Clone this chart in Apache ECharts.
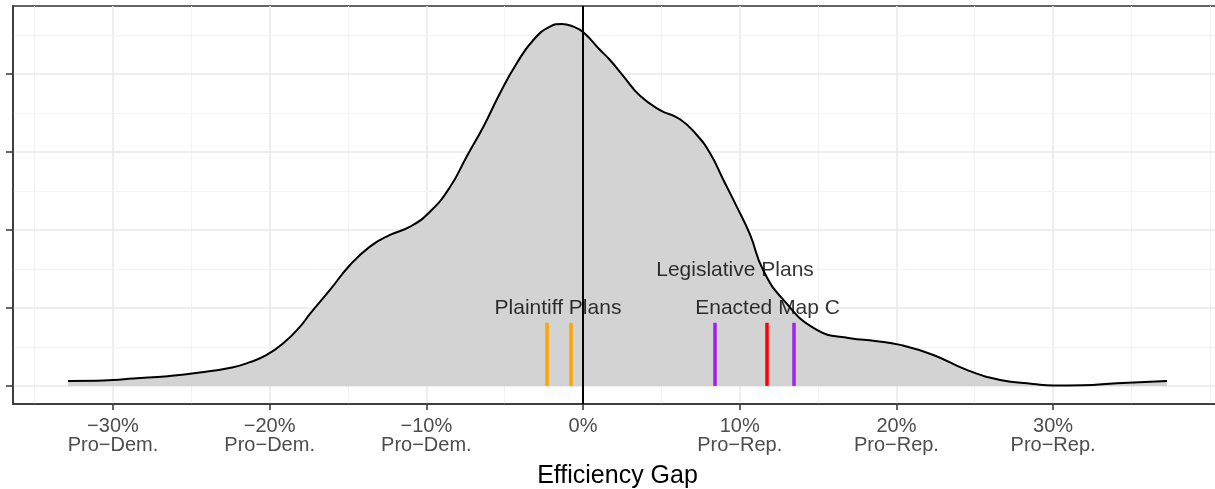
<!DOCTYPE html>
<html>
<head>
<meta charset="utf-8">
<script src="https://cdn.jsdelivr.net/npm/echarts@6/dist/echarts.min.js"></script>
<style>
  html, body { margin: 0; padding: 0; background: #ffffff; }
  #chart { width: 1215px; height: 489px; }
</style>
</head>
<body>
<div id="chart"></div>
<script>
// Density of simulated efficiency gaps: x in percent, y = density
const gapPct = [
  -32.87, -31.0, -30.0, -28.7, -26.5, -24.46, -22.32, -21.25, -20.19, -19.13,
  -18.06, -17.43, -16.15, -14.87, -13.6, -12.32, -11.04, -9.77, -8.49, -7.43,
  -6.36, -5.3, -4.23, -3.17, -2.11, -1.36, -0.62, 0.02, 1.09, 1.72,
  2.57, 3.64, 4.91, 6.19, 7.26, 8.11, 8.96, 9.81, 10.66, 11.49,
  12.79, 14.92, 17.04, 18.64, 20.24, 22.36, 24.49, 26.62, 28.72, 30.0,
  31.91, 34.07, 37.27
];
const density = [
  0.064, 0.066, 0.075, 0.095, 0.125, 0.171, 0.24, 0.305, 0.397, 0.547,
  0.76, 0.923, 1.231, 1.551, 1.786, 1.936, 2.042, 2.234, 2.55, 2.94,
  3.324, 3.753, 4.137, 4.436, 4.607, 4.641, 4.607, 4.535, 4.308, 4.179,
  3.974, 3.72, 3.538, 3.42, 3.218, 2.983, 2.641, 2.299, 1.94, 1.487,
  1.103, 0.718, 0.612, 0.577, 0.526, 0.397, 0.205, 0.077, 0.026, 0.005,
  0.009, 0.035, 0.064
];

// Individual plans (efficiency gap in percent) and the group each belongs to
const planGap   = [-2.32, -0.79, 8.38, 11.74, 13.42];
const planGroup = ['plaintiff', 'plaintiff', 'legislative', 'enacted', 'legislative'];
const planMarkTop = 0.81;

// Text annotations: label, x (percent), y (density units)
const noteText = ['Plaintiff Plans', 'Legislative Plans', 'Enacted Map C'];
const noteX    = [-1.6, 9.7, 11.78];
const noteY    = [1.0, 1.49, 1.0];

// Axis ticks and gridlines
const xTickValues = [-30, -20, -10, 0, 10, 20, 30];
const xTickLabels = ['−30%\nPro−Dem.', '−20%\nPro−Dem.', '−10%\nPro−Dem.', '0%',
                     '10%\nPro−Rep.', '20%\nPro−Rep.', '30%\nPro−Rep.'];
const xMinorGrid  = [-35, -25, -15, -5, 5, 15, 25, 35, 40];
const yTickValues = [0, 1, 2, 3, 4];
const yMinorGrid  = [0.5, 1.5, 2.5, 3.5, 4.5];

const X_MIN = -36.38, X_MAX = 40.78;
const Y_MIN = -0.232, Y_MAX = 4.872;

const groupColor = { plaintiff: '#FFA500', legislative: '#A020F0', enacted: '#FF0000' };
const FONT = '"Liberation Sans", Arial, Helvetica, sans-serif';

const curve = gapPct.map((x, i) => [x, density[i]]);

const major = { color: '#e8e8e8', width: 1.5, type: 'solid' };
const minor = { color: '#f2f2f2', width: 1, type: 'solid' };
const gridLines = []
  .concat(xTickValues.map(v => ({ xAxis: v, lineStyle: major })))
  .concat(xMinorGrid.map(v => ({ xAxis: v, lineStyle: minor })))
  .concat(yTickValues.map(v => ({ yAxis: v, lineStyle: major })))
  .concat(yMinorGrid.map(v => ({ yAxis: v, lineStyle: minor })));

const planMarks = planGap.map((g, i) => [
  { coord: [g, 0], lineStyle: { color: groupColor[planGroup[i]], width: 3.5, type: 'solid' } },
  { coord: [g, planMarkTop] }
]);

const chart = echarts.init(document.getElementById('chart'), null, { renderer: 'canvas' });

chart.setOption({
  animation: false,
  backgroundColor: '#ffffff',
  grid: {
    left: 13, right: -7, top: 6, bottom: 85,
    containLabel: false, outerBoundsMode: 'none',
    show: true, backgroundColor: '#ffffff',
    borderColor: '#333333', borderWidth: 1.5
  },
  xAxis: {
    type: 'value', min: X_MIN, max: X_MAX,
    name: 'Efficiency Gap', nameLocation: 'middle', nameGap: 60,
    nameTextStyle: { fontFamily: FONT, fontSize: 25, color: '#000000' },
    axisLine: { show: true, onZero: false, lineStyle: { color: '#333333', width: 1.5 } },
    axisTick: { show: true, customValues: xTickValues, length: 6, lineStyle: { color: '#333333', width: 1.5 } },
    axisLabel: {
      show: true, customValues: xTickValues, margin: 13,
      fontFamily: FONT, fontSize: 20, lineHeight: 19, color: '#4d4d4d',
      formatter: v => {
        const i = xTickValues.indexOf(Math.round(v));
        return i >= 0 ? xTickLabels[i] : '';
      }
    },
    splitLine: { show: false }
  },
  yAxis: {
    type: 'value', min: Y_MIN, max: Y_MAX,
    axisLine: { show: true, onZero: false, lineStyle: { color: '#333333', width: 1.5 } },
    axisTick: { show: true, customValues: yTickValues, length: 7, lineStyle: { color: '#333333', width: 1.5 } },
    axisLabel: { show: false },
    splitLine: { show: false }
  },
  series: [
    {
      // panel gridlines
      type: 'line', z: 0, silent: true,
      data: [[X_MIN, Y_MIN]], showSymbol: false,
      lineStyle: { opacity: 0 },
      markLine: { z: 0, silent: true, symbol: ['none', 'none'], label: { show: false }, data: gridLines }
    },
    {
      // density fill
      type: 'line', z: 2, silent: true,
      data: curve, smooth: 0.5, showSymbol: false,
      lineStyle: { width: 0, opacity: 0 },
      areaStyle: { color: '#d3d3d3', opacity: 1 }
    },
    {
      // annotations
      type: 'scatter', z: 3, silent: true,
      symbolSize: 0,
      data: noteText.map((t, i) => ({ name: t, value: [noteX[i], noteY[i]] })),
      label: {
        show: true, position: 'inside', formatter: '{b}',
        fontFamily: FONT, fontSize: 21, color: '#000000'
      }
    },
    {
      // density outline
      type: 'line', z: 4, silent: true,
      data: curve, smooth: 0.5, showSymbol: false,
      lineStyle: { color: '#000000', width: 2 }
    },
    {
      // zero line and individual plans
      type: 'line', z: 5, silent: true,
      data: [[X_MIN, Y_MIN]], showSymbol: false,
      lineStyle: { opacity: 0 },
      markLine: {
        z: 6, silent: true, symbol: ['none', 'none'], label: { show: false },
        data: [{ xAxis: 0, lineStyle: { color: '#000000', width: 2, type: 'solid' } }].concat(planMarks)
      }
    }
  ]
});
</script>
</body>
</html>
